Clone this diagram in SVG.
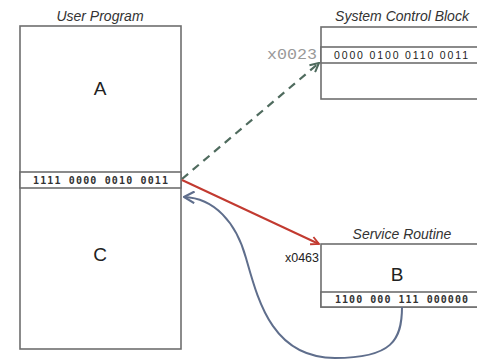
<svg xmlns="http://www.w3.org/2000/svg" width="477" height="362" viewBox="0 0 477 362">
  <defs>
    <style>
      .box { fill: #ffffff; stroke: #6e6e6e; stroke-width: 1.6; }
      .title { font-family: "Liberation Sans", Arial, sans-serif; font-style: italic; font-size: 14px; fill: #333333; text-anchor: middle; }
      .big { font-family: "Liberation Sans", Arial, sans-serif; font-size: 19px; fill: #222222; text-anchor: middle; }
      .bits { font-family: "DejaVu Sans Mono", monospace; font-weight: bold; font-size: 10px; fill: #333333; }
      .bits-sans { font-family: "Liberation Sans", Arial, sans-serif; font-size: 10.5px; fill: #222222; }
      .addr-mono { font-family: "Liberation Mono", "Courier New", monospace; font-size: 15px; fill: #999999; }
      .addr { font-family: "Liberation Sans", Arial, sans-serif; font-size: 12.5px; fill: #222222; }
    </style>
    <marker id="head-red" viewBox="0 0 10 10" refX="9" refY="5" markerWidth="10" markerHeight="10" markerUnits="userSpaceOnUse" orient="auto">
      <path d="M1,1 L9,5 L1,9" fill="none" stroke="#c23a30" stroke-width="1.8"/>
    </marker>
    <marker id="head-green" viewBox="0 0 10 10" refX="9" refY="5" markerWidth="11" markerHeight="11" markerUnits="userSpaceOnUse" orient="auto">
      <path d="M1,1 L9,5 L1,9" fill="none" stroke="#4f6b5e" stroke-width="1.8"/>
    </marker>
    <marker id="head-blue" viewBox="0 0 10 10" refX="9" refY="5" markerWidth="13" markerHeight="13" markerUnits="userSpaceOnUse" orient="auto">
      <path d="M1,0.5 L9,5 L1,9.5" fill="none" stroke="#5f6e8c" stroke-width="1.6"/>
    </marker>
  </defs>

  <rect width="477" height="362" fill="#ffffff"/>

  <!-- User program memory block -->
  <g id="user-program">
    <text class="title" x="100" y="21">User Program</text>
    <rect class="box" x="20" y="26" width="161" height="323"/>
    <rect class="box" x="20" y="172" width="161" height="16"/>
    <text class="big" x="100" y="95">A</text>
    <text class="bits" x="33" y="184" textLength="135" lengthAdjust="spacing">1111 0000 0010 0011</text>
    <text class="big" x="100" y="261">C</text>
  </g>

  <!-- System control block -->
  <g id="system-control-block">
    <text class="title" x="402" y="21">System Control Block</text>
    <rect class="box" x="321" y="27" width="170" height="72"/>
    <rect class="box" x="321" y="47" width="170" height="16"/>
    <text class="addr-mono" x="267" y="59" textLength="50" lengthAdjust="spacingAndGlyphs">x0023</text>
    <text class="bits-sans" x="334" y="59" textLength="134" lengthAdjust="spacing">0000 0100 0110 0011</text>
  </g>

  <!-- Service routine -->
  <g id="service-routine">
    <text class="title" x="402" y="239">Service Routine</text>
    <rect class="box" x="321" y="244" width="170" height="63"/>
    <rect class="box" x="321" y="292" width="170" height="15"/>
    <text class="addr" x="319" y="262" text-anchor="end">x0463</text>
    <text class="big" x="397" y="281">B</text>
    <text class="bits" x="335" y="303" textLength="133" lengthAdjust="spacing">1100 000 111 000000</text>
  </g>

  <!-- Connectors -->
  <g id="connectors" fill="none">
    <line x1="182" y1="179" x2="319" y2="63" stroke="#4f6b5e" stroke-width="2.2" stroke-dasharray="8,6" marker-end="url(#head-green)"/>
    <line x1="182" y1="180" x2="319" y2="244" stroke="#c23a30" stroke-width="2" marker-end="url(#head-red)"/>
    <path d="M402,307 C402,340 392,358 335,358 C272,358 258,300 246,258 C236,222 214,198 184,197" stroke="#5f6e8c" stroke-width="2" marker-end="url(#head-blue)"/>
  </g>
</svg>
